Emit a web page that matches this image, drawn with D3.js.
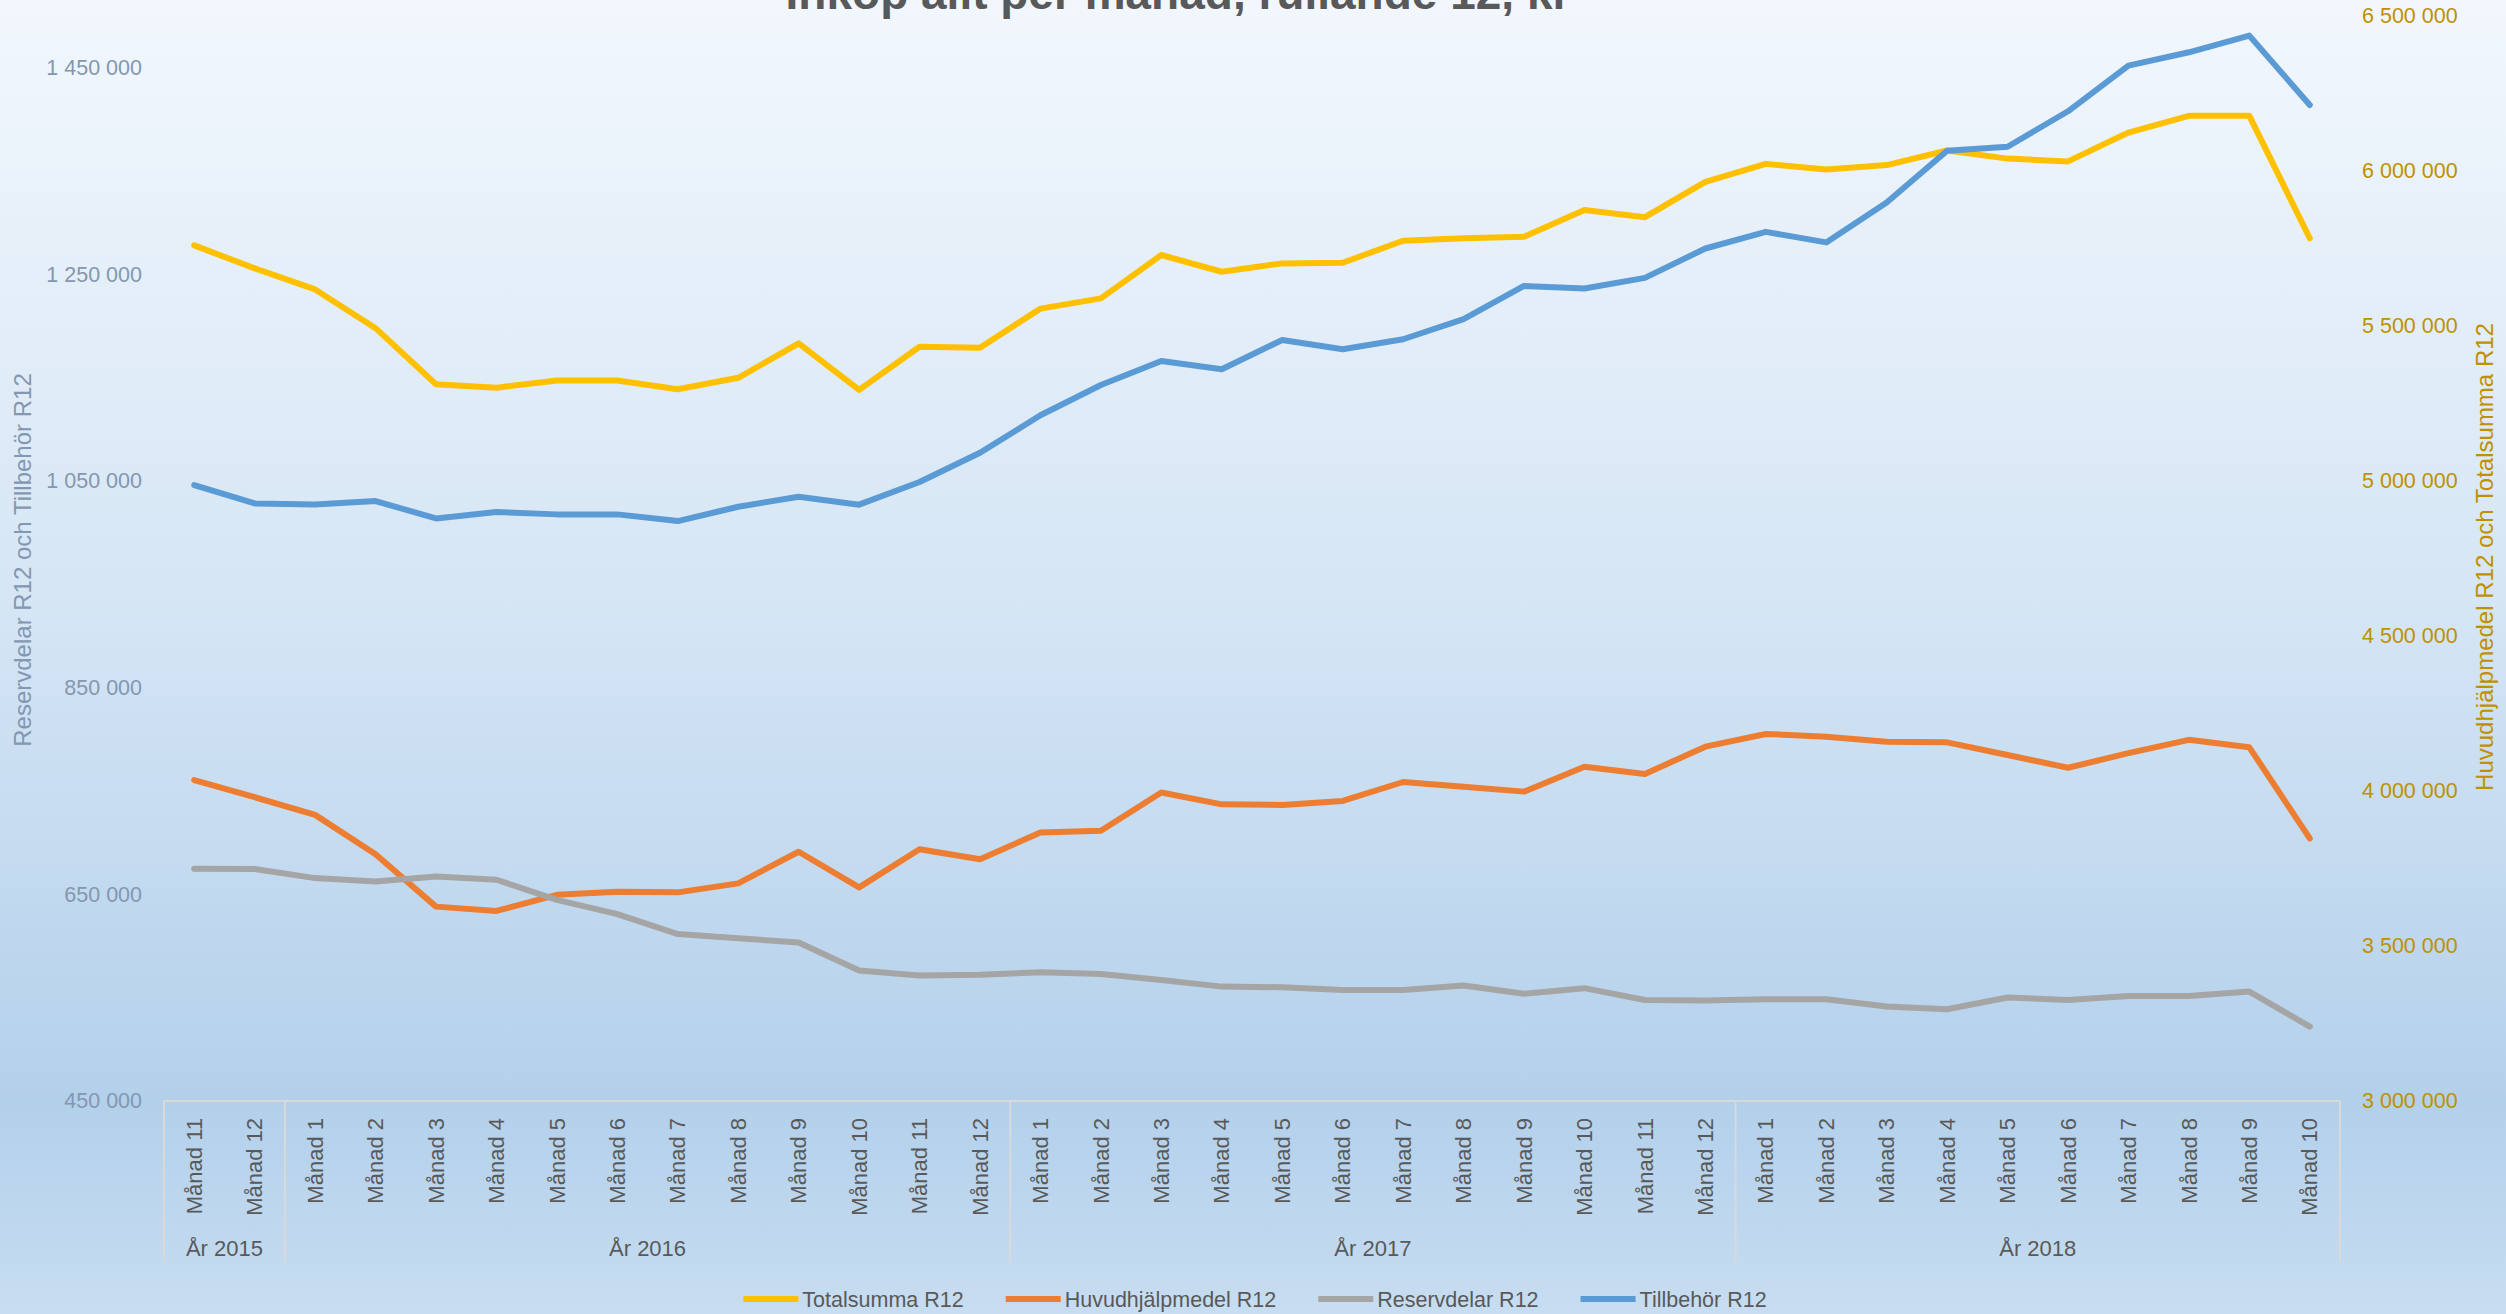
<!DOCTYPE html>
<html>
<head>
<meta charset="utf-8">
<script src="https://cdn.jsdelivr.net/npm/d3@7"></script>
<style>
  body { margin: 0; overflow: hidden; }
  text { font-family: "Liberation Sans", Arial, sans-serif; }
</style>
</head>
<body>
<div id="chart-container"></div>
<script>
// Data
const monthLabels = [
  "Månad 11", "Månad 12",
  "Månad 1", "Månad 2", "Månad 3", "Månad 4", "Månad 5", "Månad 6",
  "Månad 7", "Månad 8", "Månad 9", "Månad 10", "Månad 11", "Månad 12",
  "Månad 1", "Månad 2", "Månad 3", "Månad 4", "Månad 5", "Månad 6",
  "Månad 7", "Månad 8", "Månad 9", "Månad 10", "Månad 11", "Månad 12",
  "Månad 1", "Månad 2", "Månad 3", "Månad 4", "Månad 5", "Månad 6",
  "Månad 7", "Månad 8", "Månad 9", "Månad 10"
];
const yearLabels = ["År 2015", "År 2016", "År 2017", "År 2018"];
const yearCounts = [2, 12, 12, 10];

const totalsumma = [5760000, 5686000, 5618000, 5493000, 5312000, 5301000, 5324000, 5324000, 5296000,
  5333000, 5444000, 5294000, 5433000, 5430000, 5556000, 5589000, 5729000, 5675000, 5702000, 5704000,
  5775000, 5783000, 5788000, 5874000, 5851000, 5965000, 6023000, 6005000, 6019000, 6066000, 6040000,
  6031000, 6124000, 6178000, 6178000, 5783000];
const huvudhjalpmedel = [4035000, 3980000, 3923000, 3796000, 3627000, 3613000, 3665000, 3675000, 3673000,
  3702000, 3804000, 3689000, 3812000, 3780000, 3866000, 3872000, 3995000, 3957000, 3955000, 3968000,
  4029000, 4014000, 3998000, 4078000, 4055000, 4143000, 4184000, 4175000, 4159000, 4157000, 4116000,
  4075000, 4122000, 4165000, 4141000, 3847000];
const reservdelar = [674700, 674500, 665700, 662400, 667300, 664100, 644700, 630800, 611500, 607600,
  603300, 576200, 571400, 572100, 574700, 573000, 567200, 560700, 560100, 557500, 557500, 561700,
  553700, 559200, 547800, 547200, 548500, 548500, 541400, 538800, 550100, 547800, 551700, 551700,
  555900, 522000];
const tillbehor = [1046000, 1028300, 1027300, 1030600, 1013800, 1019900, 1017700, 1017700, 1011200,
  1025100, 1034800, 1027100, 1049000, 1077400, 1113600, 1142900, 1166200, 1158100, 1186500, 1177500,
  1187200, 1206600, 1238800, 1236300, 1246600, 1275000, 1291100, 1280900, 1319600, 1369600, 1373500,
  1407800, 1452000, 1464900, 1481000, 1413900];

const leftTicks = [450000, 650000, 850000, 1050000, 1250000, 1450000];
const rightTicks = [3000000, 3500000, 4000000, 4500000, 5000000, 5500000, 6000000, 6500000];

const series = [
  { name: "Totalsumma R12", values: totalsumma, axis: "right", color: "#FFC000" },
  { name: "Huvudhjälpmedel R12", values: huvudhjalpmedel, axis: "right", color: "#ED7D31" },
  { name: "Reservdelar R12", values: reservdelar, axis: "left", color: "#A5A5A5" },
  { name: "Tillbehör R12", values: tillbehor, axis: "left", color: "#5B9BD5" }
];

// Set dimensions and margins for the chart
const W = 2506, H = 1314;
const margin = { top: 16, right: 166, bottom: 213, left: 164 };
const width = W - margin.left - margin.right;
const height = H - margin.top - margin.bottom;

const svgRoot = d3.select("#chart-container")
  .append("svg")
  .attr("width", W)
  .attr("height", H);

// Background gradient
const grad = svgRoot.append("defs").append("linearGradient")
  .attr("id", "bg")
  .attr("x1", 0).attr("y1", 0).attr("x2", 0).attr("y2", 1);
[[0, "#F2F7FD"], [0.45, "#D6E6F5"], [0.84, "#B3D0EB"], [1, "#C7DDF1"]].forEach(([o, c]) => {
  grad.append("stop").attr("offset", o).attr("stop-color", c);
});
svgRoot.append("rect").attr("width", W).attr("height", H).attr("fill", "url(#bg)");

const svg = svgRoot.append("g")
  .attr("transform", `translate(${margin.left}, ${margin.top})`);

// Scales
const x = d3.scaleBand()
  .domain(d3.range(monthLabels.length))
  .range([0, width])
  .padding(0);

const yLeft = d3.scaleLinear()
  .domain([450000, 1500000])
  .range([height, 0]);

const yRight = d3.scaleLinear()
  .domain([3000000, 6500000])
  .range([height, 0]);

const fmt = d3.formatLocale({ decimal: ",", thousands: " ", grouping: [3], currency: ["", ""] }).format(",d");

// Left y axis
svg.append("g")
  .call(d3.axisLeft(yLeft).tickValues(leftTicks).tickSize(0).tickPadding(22).tickFormat(fmt))
  .call(g => g.select(".domain").remove())
  .selectAll("text")
  .style("font-size", "21.5px")
  .attr("fill", "#8497B0");

// Right y axis
svg.append("g")
  .attr("transform", `translate(${width}, 0)`)
  .call(d3.axisRight(yRight).tickValues(rightTicks).tickSize(0).tickPadding(22).tickFormat(fmt))
  .call(g => g.select(".domain").remove())
  .selectAll("text")
  .style("font-size", "21.5px")
  .attr("fill", "#BF9000");

// Axis titles
svgRoot.append("text")
  .attr("transform", `translate(23, ${margin.top + 544}) rotate(-90)`)
  .attr("text-anchor", "middle")
  .attr("dy", "0.35em")
  .style("font-size", "24px")
  .attr("fill", "#8497B0")
  .text("Reservdelar R12 och Tillbehör R12");

svgRoot.append("text")
  .attr("transform", `translate(2485, ${margin.top + 541}) rotate(-90)`)
  .attr("text-anchor", "middle")
  .attr("dy", "0.35em")
  .style("font-size", "24px")
  .attr("fill", "#BF9000")
  .text("Huvudhjälpmedel R12 och Totalsumma R12");

// Add x axis (months)
svg.append("g")
  .attr("transform", `translate(0, ${height})`)
  .call(d3.axisBottom(x).tickSize(0).tickFormat(i => monthLabels[i]))
  .call(g => g.select(".domain").remove())
  .selectAll("text")
  .attr("transform", "rotate(-90)")
  .attr("text-anchor", "end")
  .attr("x", -17)
  .attr("y", 0)
  .attr("dy", "0.35em")
  .style("font-size", "22px")
  .attr("fill", "#595959");

// Year groups and separators
const catAxis = svg.append("g").attr("transform", `translate(0, ${height})`);
catAxis.append("line")
  .attr("x1", 0).attr("x2", width)
  .attr("y1", 0).attr("y2", 0)
  .attr("stroke", "#D9D9D9").attr("stroke-width", 2);

let start = 0;
const bounds = [0];
yearLabels.forEach((label, k) => {
  const n = yearCounts[k];
  const x0 = x(start);
  const x1 = start + n < monthLabels.length ? x(start + n) : width;
  catAxis.append("text")
    .attr("x", (x0 + x1) / 2)
    .attr("y", 147)
    .attr("dy", "0.35em")
    .attr("text-anchor", "middle")
    .style("font-size", "22px")
    .attr("fill", "#595959")
    .text(label);
  bounds.push(x1);
  start += n;
});
catAxis.selectAll(".sep")
  .data(bounds)
  .join("line")
  .attr("class", "sep")
  .attr("x1", d => d).attr("x2", d => d)
  .attr("y1", 0).attr("y2", 161)
  .attr("stroke", "#D9D9D9").attr("stroke-width", 2);

// Lines
series.forEach(s => {
  const yScale = s.axis === "left" ? yLeft : yRight;
  const line = d3.line()
    .x((d, i) => x(i) + x.bandwidth() / 2)
    .y(d => yScale(d));
  svg.append("path")
    .datum(s.values)
    .attr("fill", "none")
    .attr("stroke", s.color)
    .attr("stroke-width", 6)
    .attr("stroke-linejoin", "round")
    .attr("stroke-linecap", "round")
    .attr("d", line);
});

// Title (cut at the top edge, as in the original)
svgRoot.append("text")
  .attr("x", 1178)
  .attr("y", 9)
  .attr("text-anchor", "middle")
  .style("font-size", "46px")
  .style("font-weight", "bold")
  .attr("fill", "#595959")
  .text("Inköp allt per månad, rullande 12, kr");

// Legend
const legend = svgRoot.append("g").attr("transform", "translate(0, 1299)");
const items = legend.selectAll("g")
  .data(series)
  .join("g");
items.append("line")
  .attr("x1", 0).attr("x2", 55)
  .attr("stroke", d => d.color)
  .attr("stroke-width", 6);
items.append("text")
  .attr("x", 59)
  .attr("dy", "0.35em")
  .style("font-size", "21.5px")
  .attr("fill", "#595959")
  .text(d => d.name);

let lx = 0;
const offsets = [];
items.each(function() {
  offsets.push(lx);
  lx += 59 + this.querySelector("text").getComputedTextLength() + 42;
});
const total = lx - 42;
const left0 = 1255 - total / 2;
items.attr("transform", (d, i) => `translate(${left0 + offsets[i]}, 0)`);
</script>
</body>
</html>
